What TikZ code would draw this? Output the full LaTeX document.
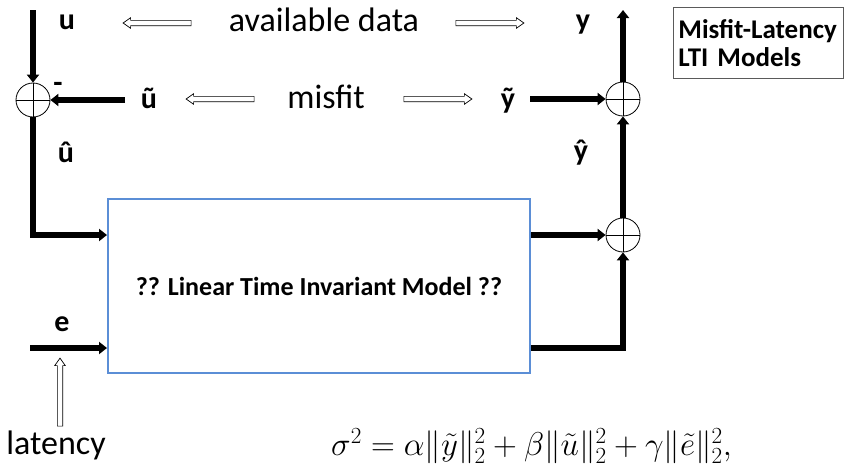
\RequirePackage{fix-cm}
\documentclass[tikz,border=0pt]{standalone}
\usepackage{fontspec}
\setmainfont{Carlito}
\usetikzlibrary{arrows.meta,shapes.arrows}
\definecolor{boxblue}{RGB}{91,142,214}
\definecolor{framegray}{RGB}{90,90,90}
\begin{document}
\begin{tikzpicture}[x=1pt,y=-1pt,
  sig/.style={line width=5.5pt,-{Triangle[length=8pt,width=12pt]}},
  sumnode/.style={circle,draw,line width=0.8pt,minimum size=34pt,inner sep=0pt},
  hollow/.style={single arrow,draw,line width=0.7pt,minimum height=68pt,
    inner xsep=0pt,inner ysep=2.3pt,single arrow head extend=2.6pt,
    single arrow tip angle=70,outer sep=0pt},
  lbl/.style={font=\fontsize{30}{34}\selectfont\bfseries,anchor=base,inner sep=0pt},
  txt/.style={font=\fontsize{34}{38}\selectfont,anchor=base,inner sep=0pt}]
\useasboundingbox (0,0) rectangle (844,471);

% summing junctions
\node[sumnode] (s1) at (33,100) {};
\node[sumnode] (s2) at (623,99) {};
\node[sumnode] (s3) at (623,235) {};
\foreach \s in {s1,s2,s3}{\draw[line width=0.7pt] (\s.north)--(\s.south) (\s.west)--(\s.east);}

% model box
\node[draw=boxblue,line width=2pt,minimum width=422pt,minimum height=174pt,anchor=north west,
  font=\fontsize{26}{28}\selectfont\bfseries] (lti) at (107,198) {?? Linear Time Invariant Model ??};

% title box
\node[draw=framegray,line width=0.8pt,anchor=north west,minimum width=170pt,minimum height=71pt,
  align=left,text width=160pt,inner sep=5pt,font=\fontsize{27}{28}\selectfont\bfseries] (title) at (673,7)
  {Misfit-Latency\\LTI Models};

% labels
\node[lbl] (u) at (67,30) {u};
\node[txt] (avail) at (324,31) {available data};
\node[lbl] (y) at (583,30) {y};
\node[lbl] (ut) at (149,108) {ũ};
\node[txt] (mis) at (326,108) {misfit};
\node[lbl] (yt) at (508,108) {ỹ};
\node[lbl] (uh) at (66,162) {û};
\node[lbl] (yh) at (581,160) {ŷ};
\node[lbl] (e) at (62,331) {e};
\node[lbl] (minus) at (58,92) {-};
\node[txt] (lat) at (56,454) {latency};

% hollow arrows
\node[hollow,rotate=180] (ha1) at (159,23) {};
\node[hollow] (ha2) at (488,23) {};
\node[hollow,rotate=180] (ha3) at (222,99) {};
\node[hollow] (ha4) at (436,99) {};
\node[hollow,rotate=90] (ha5) at (60,394) {};

% signal coordinates
\coordinate (topL) at (33,10);
\coordinate (topR) at (623,10);
\coordinate (utS) at (125,100);
\coordinate (ytS) at (530,99);
\coordinate (eS) at (30,348);
\coordinate (rowA) at (0,235);
\coordinate (rowE) at (0,348);

% signal lines
\draw[sig] (topL) -- (s1.north);
\draw[sig] (utS) -- (s1.east);
\draw[sig] (s1.south) |- (lti.west |- rowA);
\draw[sig] (eS) -- (lti.west |- rowE);
\draw[sig] (s2.north) -- (topR);
\draw[sig] (ytS) -- (s2.west);
\draw[sig] (s3.north) -- (s2.south);
\draw[sig] (lti.east |- rowA) -- (s3.west);
\draw[sig] (lti.east |- rowE) -| (s3.south);

% cost
\node[anchor=base west,inner sep=0pt,font=\fontsize{33}{38}\selectfont] (cost) at (331,455)
  {$\sigma^2=\alpha\|\tilde y\|_2^2+\beta\|\tilde u\|_2^2+\gamma\|\tilde e\|_2^2,$};
\end{tikzpicture}
\end{document}
